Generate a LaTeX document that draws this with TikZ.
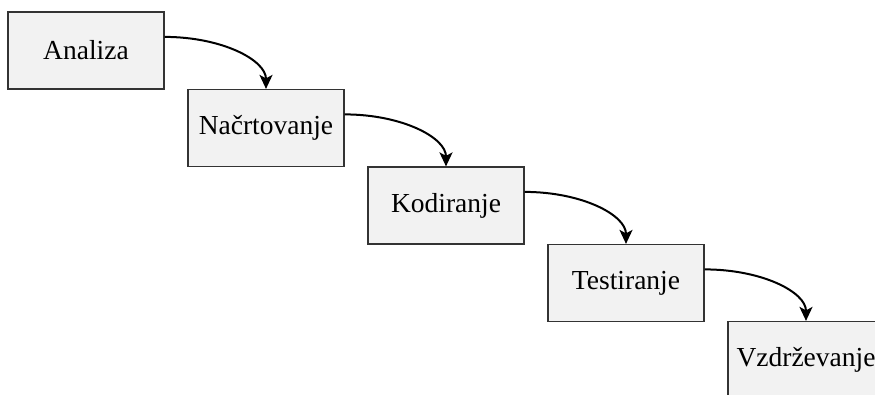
\documentclass[tikz,border=0pt]{standalone}
\usepackage{fontspec}
\setmainfont{Liberation Serif}
\usetikzlibrary{arrows.meta}
\definecolor{boxfill}{HTML}{F2F2F2}
\definecolor{boxline}{HTML}{333333}
\tikzset{
  phase/.style={draw=boxline, line width=1.2pt, fill=boxfill,
    minimum width=156pt, minimum height=77pt, inner sep=0pt,
    font=\fontsize{27.5}{33}\selectfont},
  flow/.style={line width=2pt, -{Stealth[length=14pt,width=13pt,inset=3.5pt]}}
}
\begin{document}
\begin{tikzpicture}[x=1pt, y=-1pt]
  \useasboundingbox (0,0) rectangle (875,394);
  \clip (0,0) rectangle (875,394);
  \node[phase] (an) at (86,50.5)   {Analiza};
  \node[phase] (na) at (266,128)   {Načrtovanje};
  \node[phase] (ko) at (446,205.5) {Kodiranje};
  \node[phase] (te) at (626,283)   {Testiranje};
  \node[phase] (vz) at (806,360)   {Vzdrževanje};
  % connectors leave the right side a third of the way down and enter the next box from above
  \foreach \a/\b in {an/na, na/ko, ko/te, te/vz}{
    \coordinate (s) at ([yshift=-25.5pt]\a.north east);
    \draw[flow] (s) .. controls +(57,0) and +(0,-29) .. (\b.north);
  }
\end{tikzpicture}
\end{document}
